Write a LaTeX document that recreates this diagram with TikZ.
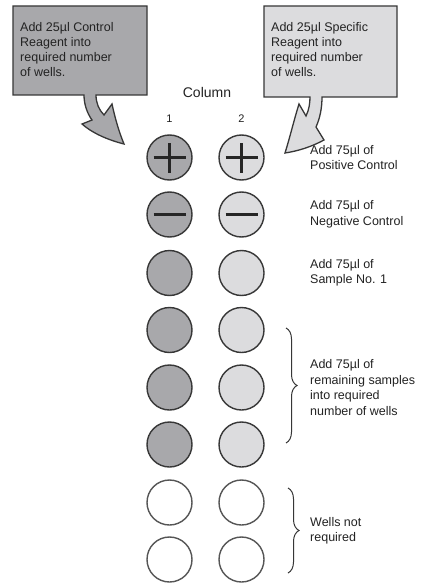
\documentclass[tikz,border=0pt]{standalone}
\usepackage{fontspec}
\setmainfont{Liberation Sans}
\usetikzlibrary{decorations.pathreplacing}
\definecolor{darkfill}{RGB}{168,168,171}
\definecolor{lightfill}{RGB}{220,220,222}
\definecolor{outl}{RGB}{55,55,55}
\definecolor{txt}{RGB}{35,35,35}
\begin{document}
\begin{tikzpicture}[x=1pt,y=-1pt,
  wellbase/.style={circle,minimum size=45pt,inner sep=0pt,draw=outl,line width=1.4pt},
  welldark/.style={wellbase,fill=darkfill},
  welllight/.style={wellbase,fill=lightfill},
  wellempty/.style={wellbase,fill=white,draw=outl!85},
  signline/.style={line width=2.6pt,draw=black!85},
  lab/.style={anchor=west,align=left,inner sep=0pt,text=txt,font=\fontsize{12.5}{15.5}\selectfont},
  boxtxt/.style={anchor=north west,align=left,inner sep=0pt,text=txt,font=\fontsize{12.5}{15}\selectfont},
  callout/.style={draw=outl,line width=1.3pt,line join=miter},
  bracestyle/.style={draw=outl,line width=1pt,decorate,decoration={brace,amplitude=11pt}}
]
\useasboundingbox (0,0) rectangle (424,583);
\fill[white] (0,0) rectangle (424,583);

% left callout
\path[callout,fill=darkfill] (13,6) -- (147,6) -- (147,95) -- (96,95)
  .. controls (96,103) and (99,110) .. (104,115) -- (112,104)
  .. controls (115,118) and (119,132) .. (124,144)
  .. controls (108,140) and (92,133) .. (82,124) -- (92,120)
  .. controls (87,113) and (84,104) .. (84,95) -- (13,95) -- cycle;
\node[boxtxt] (ctrltext) at (20,22.5) {Add 25µl Control\\Reagent into\\required number\\of wells.};

% right callout
\path[callout,fill=lightfill] (264,6) -- (397,6) -- (397,97) -- (322,97)
  .. controls (322,108) and (320,118) .. (316,127) -- (324,140)
  .. controls (311,147) and (298,151) .. (285,153)
  .. controls (290,137) and (294,120) .. (299,104) -- (306,116)
  .. controls (309,110) and (310,103) .. (310,97) -- (264,97) -- cycle;
\node[boxtxt] (spectext) at (271,22.5) {Add 25µl Specific\\Reagent into\\required number\\of wells.};

% column headings
\node[inner sep=0pt,text=txt,font=\fontsize{14}{16}\selectfont] (colhead) at (207,92) {Column};
\node[inner sep=0pt,text=txt,font=\fontsize{11}{13}\selectfont] (c1) at (169.5,118.5) {1};
\node[inner sep=0pt,text=txt,font=\fontsize{11}{13}\selectfont] (c2) at (241.5,118.5) {2};

% wells
\node[welldark]  (r1a) at (169.5,157.5) {};
\node[welllight] (r1b) at (241.5,157.5) {};
\node[welldark]  (r2a) at (169.5,214.5) {};
\node[welllight] (r2b) at (241.5,214.5) {};
\node[welldark]  (r3a) at (169.5,273) {};
\node[welllight] (r3b) at (241.5,273) {};
\node[welldark]  (r4a) at (169.5,330) {};
\node[welllight] (r4b) at (241.5,330) {};
\node[welldark]  (r5a) at (169.5,387.5) {};
\node[welllight] (r5b) at (241.5,387.5) {};
\node[welldark]  (r6a) at (169.5,444.5) {};
\node[welllight] (r6b) at (241.5,444.5) {};
\node[wellempty] (r7a) at (169.5,502.5) {};
\node[wellempty] (r7b) at (241.5,502.5) {};
\node[wellempty] (r8a) at (169.5,559.5) {};
\node[wellempty] (r8b) at (241.5,559.5) {};

% plus and minus signs
\foreach \w in {r1a,r1b}{
  \draw[signline] ([xshift=-16pt]\w.center) -- ([xshift=16pt]\w.center);
  \draw[signline] ([yshift=-15pt]\w.center) -- ([yshift=15pt]\w.center);
}
\foreach \w in {r2a,r2b}{
  \draw[signline] ([xshift=-16pt]\w.center) -- ([xshift=16pt]\w.center);
}

% labels
\node[lab] (lpos) at (310,157.5) {Add 75µl of\\Positive Control};
\node[lab] (lneg) at (310,214.5) {Add 75µl of\\Negative Control};
\node[lab] (lsam) at (310,273) {Add 75µl of\\Sample No. 1};
\node[lab] (lrem) at (310,387.5) {Add 75µl of\\remaining samples\\into required\\number of wells};
\node[lab] (lnot) at (310,531) {Wells not\\required};

% braces
\coordinate (b1top) at (286,328);
\coordinate (b1bot) at (286,443);
\coordinate (b2top) at (288,488);
\coordinate (b2bot) at (288,573);
\draw[bracestyle] (b1top) -- (b1bot);
\draw[bracestyle] (b2top) -- (b2bot);
\end{tikzpicture}
\end{document}
